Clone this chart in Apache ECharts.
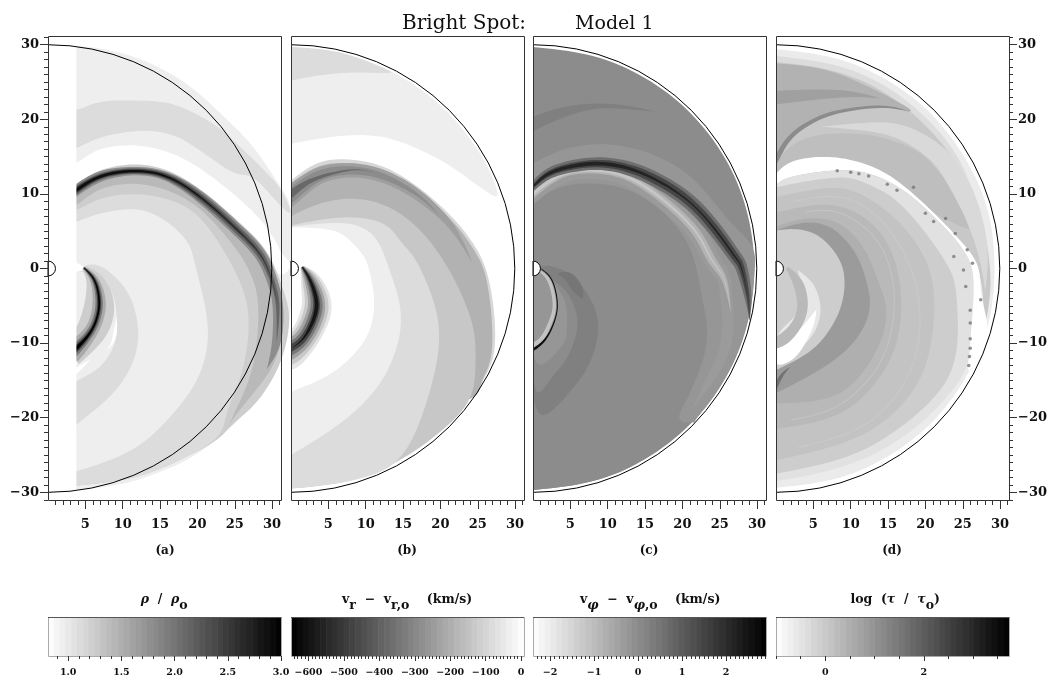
<!DOCTYPE html>
<html><head><meta charset="utf-8">
<script src="https://cdn.jsdelivr.net/npm/echarts@6/dist/echarts.min.js"></script>
<style>html,body{margin:0;padding:0;background:#fff}#c{width:1051px;height:680px}</style>
</head><body><div id="c"></div>
<script>
// Contour bands, in data units: [kind, field value, outline]
// kind p = curved closed outline, q = straight outline, r = ribbon of [x, y, half-width]
const rhoShapes = [
['p',0.956,[[0,30],[3.8,29.8],[7,29.5],[12.4,28.1],[18.6,24.8],[24,19.9],[27.5,16.3],[31.1,10.9],[32.6,7.5],[32.6,-4],[32,-8.7],[31.3,-11.4],[29.3,-15.4],[26.7,-19],[23.1,-22.5],[18.6,-25.7],[13.3,-27.9],[8.3,-29.2],[0,-30]]],
['p',1.11,[[0,21],[3.8,21.2],[7,22.4],[12.6,22.5],[17,22],[22,19.5],[25,17],[28.4,13.7],[31,10.9],[32.6,7.5],[31.2,8.3],[27.5,12.3],[24.9,12.7],[20.4,15.8],[16.8,17.9],[12.4,18.5],[7,17.6],[3.8,16.1],[0,15]]],
['p',0.81,[[0,12.8],[3.8,14.1],[7,16.1],[12.4,16.5],[17.7,15],[22.6,11.8],[27.5,7.6],[30.2,4.2],[31.25,2],[32.6,0.5],[31,-1],[28.4,2],[24.9,5.6],[20.4,9.6],[15.9,12.4],[11.5,13.1],[7,12.4],[3.8,10.5],[0,8]]],
['p',1.24,[[0,8.5],[3.8,11.2],[7,13.2],[11.5,14],[16,13.2],[20.6,10.5],[25.5,6.3],[29.2,2.5],[31.2,-2],[32.3,-6],[31.9,-10],[30.5,-14],[27.9,-18],[25,-20.6],[23,-22.5],[18.6,-25.2],[13.3,-27.5],[8.3,-28.6],[0,-29.5]]],
['p',1.41,[[0,8],[3.8,10.9],[7,12.9],[11.5,13.7],[16,12.9],[20.6,10.2],[25.2,6],[28.8,2.3],[30.6,-2],[31.5,-6],[31.2,-10],[29.8,-13.6],[27.5,-16.7],[24.9,-19.9],[23,-22.5],[20,-21],[10,-20],[0,-20]]],
['p',1.24,[[0,6.5],[3.8,8.5],[7,10.7],[11.5,11.4],[16,10.5],[20.4,8],[24.5,3.5],[26.8,0],[28.2,-4.7],[27.5,-13.2],[24.9,-19.4],[23.3,-22.5],[18.6,-25.2],[13.3,-27.5],[8.3,-28.6],[0,-29.5]]],
['p',1.11,[[0,7],[3.8,7.8],[7,9.4],[11.5,10],[16,9.3],[20.4,6.9],[24.9,0],[26.9,-6],[26.2,-13.2],[24,-19],[22.9,-22.5],[18.6,-25.2],[13.3,-27.5],[8.3,-28.6],[0,-29.5]]],
['p',0.956,[[0,5],[3.8,6.25],[7,7.4],[11.5,8],[15,6.9],[18.6,3.8],[19.8,0],[21.5,-7.8],[20.4,-14.1],[16.8,-19.4],[11.5,-24.3],[3.8,-27.2],[0,-28]]],
['p',1.11,[[4.8,0.3],[7,0.45],[10.6,-2.9],[12.1,-7.8],[11.5,-12.3],[8.8,-16.7],[3.8,-20.8],[0,-22],[0,0]]],
['p',0.956,[[5.5,-0.5],[8.5,-3],[9.2,-6.5],[9,-10],[7,-13.2],[3.8,-15],[0,-16],[0,0]]],
['r',0.81,[[9.2,-6.5,0],[9,-8.5,0.25],[8.6,-10,0.15],[7.8,-11,0]]],
['r',0.81,[[3.2,-14.2,0.35],[3.8,-13.7,0.35],[5.8,-12.1,0]]],
['r',0.81,[[3.5,0.2,0.7],[4.7,0,0.3]]],
['r',1.80,[[2.5,9.3,0.7],[3.8,10.5,0.7],[7,12.4,0.7],[11.5,13.1,0.55],[15.9,12.4,0.6],[20.4,9.6,0.75],[24.9,5.6,0.8],[28.4,2,0.8],[30,-1.6,0.7],[30.8,-5,0.7],[30.6,-10,0.6],[29.3,-13.5,0]]],
['r',2.14,[[2.5,9.3,0.5],[3.8,10.5,0.5],[7,12.4,0.42],[11.5,13.1,0.38],[15.9,12.4,0.42],[20.4,9.6,0.5],[24.9,5.6,0.5],[28.4,2,0.45],[30,-1.6,0.3],[30.8,-5,0.25],[30.6,-10,0]]],
['r',2.48,[[2.5,9.3,0.33],[3.8,10.5,0.33],[7,12.4,0.28],[11.5,13.1,0.26],[15.9,12.4,0.26],[20.4,9.6,0.25],[24.9,5.6,0.2],[28.4,2,0.12],[30,-1.6,0.05],[30.8,-5,0]]],
['r',2.87,[[2.5,9.3,0.2],[3.8,10.5,0.2],[7,12.4,0.17],[11.5,13.1,0.15],[15.9,12.4,0.11],[20.4,9.6,0.06],[24.9,5.6,0.02],[28.4,2,0]]],
['r',1.24,[[4.8,0.1,0.3],[6.3,-1.6,1.2],[6.9,-4.7,2],[6.3,-7.4,2.1],[5.2,-9.2,1.9],[3.8,-10.7,1.8],[3,-11.4,1.8]]],
['r',1.54,[[4.8,0.1,0.2],[6.3,-1.6,0.6],[6.9,-4.7,0.9],[6.3,-7.4,0.9],[5.2,-9.2,1],[3.8,-10.7,1.3],[3,-11.4,1.4]]],
['r',1.97,[[4.8,0.1,0.12],[6.3,-1.6,0.35],[6.9,-4.7,0.5],[6.3,-7.4,0.5],[5.2,-9.2,0.55],[3.8,-10.7,0.75],[3,-11.4,0.85]]],
['r',2.48,[[4.8,0.1,0.08],[6.3,-1.6,0.2],[6.9,-4.7,0.26],[6.3,-7.4,0.25],[5.2,-9.2,0.3],[3.8,-10.7,0.42],[3,-11.4,0.46]]],
['r',3.0,[[4.8,0.1,0.03],[6.3,-1.6,0.08],[6.9,-4.7,0.11],[6.3,-7.4,0.11],[5.2,-9.2,0.15],[3.8,-10.7,0.22],[3,-11.4,0.25]]],
['q',0.81,[[-0.6,-31.03],[3.8,-31.03],[3.8,31.17],[-0.6,31.17]]]
];
const velShapes = [
['q',8,[[-1,-32],[33,-32],[33,32],[-1,32]]],
['p',-36,[[0,29.7],[8,28.6],[15,25.6],[21,21],[25.7,14.9],[27.8,9.8],[26,10.4],[21.6,13.6],[17.1,16],[12.6,17.6],[8.2,17.9],[3.7,17.4],[0,16.7]]],
['p',-82,[[0,29.7],[4,29.4],[8,28.6],[13,26.6],[13,26.2],[8.2,26.3],[3.7,25.9],[0,25.2]]],
['p',-95,[[0,11.8],[3.7,14.3],[8.2,14.6],[12.6,13.6],[17.1,10.9],[21.6,6.9],[24.7,2.9],[26.4,-1],[27.3,-7],[27.1,-12],[25.5,-15.3],[24,-17.6],[14,-20],[0,-20]]],
['p',-190,[[0,11.3],[3.7,13.8],[8.2,14.1],[12.6,13.1],[17.1,10.4],[21.6,6.4],[24.5,2.5],[26.1,-1],[26.9,-7],[26.8,-12],[25.4,-15.3],[24,-17.6],[14,-20],[0,-20]]],
['r',-240,[[-1,9,1.3],[0,9.8,1.3],[3.7,12.5,1.1],[8.2,13.2,0.95],[12.6,12.3,0.85],[17.1,9.8,0.7],[21.6,5.6,0.4],[24.3,0.7,0]]],
['r',-288,[[-1,9,0.9],[0,9.8,0.9],[3.7,12.5,0.7],[8.2,13.2,0.55],[12.6,12.3,0.4],[17.1,9.8,0.2],[20,7,0]]],
['r',-380,[[-1,9,0.5],[0,10,0.5],[3,12,0.25],[8.2,13.3,0.08],[11,12.9,0]]],
['p',-135,[[0,7],[3.7,8.7],[8.2,9.4],[12.6,8.5],[17.1,5.4],[21.1,0],[24.2,-6.9],[24.7,-12.3],[24,-17.6],[20,-21.9],[14.6,-25.7],[8,-28.5],[0,-29.5]]],
['p',-82,[[0,5.8],[3.7,6.5],[8.2,6.9],[12.6,6],[14.9,3.3],[17.1,0.5],[20,-7.8],[18.4,-17.2],[14.6,-25.7],[8,-28.5],[0,-29.5]]],
['p',-36,[[0,5.6],[3.7,6],[8.2,6],[11.3,4.2],[13.1,0],[14.9,-6.9],[12.6,-14.5],[7.3,-20.3],[0,-25]]],
['p',8,[[0,5.5],[3.7,5.4],[6.8,4.7],[9.5,2],[10.4,0],[11.2,-4.7],[10,-9.6],[5.5,-14.1],[0,-16.5]]],
['r',-60,[[1.5,0.2,0.3],[2.6,-1.6,1.4],[3.5,-4.7,2],[2.8,-7.4,2],[1.5,-9.6,2],[0,-10.7,2.6],[-1,-11.2,2.6]]],
['r',-130,[[1.5,0.2,0.25],[2.6,-1.6,1.1],[3.5,-4.7,1.6],[2.8,-7.4,1.6],[1.5,-9.6,1.6],[0,-10.7,2],[-1,-11.2,2]]],
['r',-230,[[1.5,0.2,0.2],[2.6,-1.6,0.8],[3.5,-4.7,1.15],[2.8,-7.4,1.2],[1.5,-9.6,1.2],[0,-10.7,1.4],[-1,-11.2,1.4]]],
['r',-340,[[1.5,0.2,0.15],[2.6,-1.6,0.5],[3.5,-4.7,0.8],[2.8,-7.4,0.8],[1.5,-9.6,0.8],[0,-10.7,0.9],[-1,-11.2,0.9]]],
['r',-469,[[1.5,0.2,0.1],[2.6,-1.6,0.3],[3.5,-4.7,0.45],[2.8,-7.4,0.45],[1.5,-9.6,0.45],[0,-10.7,0.45],[-1,-11.2,0.45]]],
['r',-597,[[1.5,0.2,0.05],[2.6,-1.6,0.15],[3.5,-4.7,0.25],[2.8,-7.4,0.2],[1.5,-9.6,0.1],[0,-10.7,0]]]
];
const phiShapes = [
['q',-2.39,[[-1,-32],[33,-32],[33,32],[-1,32]]],
['p',0,[[0,29.7],[8,28.6],[15,25.6],[21,21],[25.7,14.9],[28.6,8],[29.7,0],[28.6,-8],[25.7,-14.9],[21,-21],[15,-25.6],[8,-28.6],[0,-29.7]]],
['r',0.25,[[-1,19,0.9],[0,19.4,0.9],[3.8,20.9,0.7],[8.3,21.8,0.35],[12.7,21.6,0.25],[16.5,21,0]]],
['p',-0.21,[[0,14.1],[3.8,15.9],[8.3,16.7],[12.7,16.3],[17.2,14.8],[21.7,11.9],[26.1,6.5],[29.5,2.9],[29.6,-1],[29,-6],[27.5,-11],[25,-16],[21.5,-20.5],[20,-20.5],[0,-22]]],
['p',0,[[0,9],[3.8,11],[8.3,11.4],[12.7,10.6],[17.2,7.8],[21,3],[22.5,-3.3],[23.4,-10],[21,-16.7],[19.4,-19.9],[20,-21],[15,-25.6],[8,-28.6],[0,-29.7]]],
['r',-0.31,[[25.2,0.2,0.8],[26.1,-5.6,0.8],[25.7,-10.9,0.7],[23.4,-15.4,0.5],[21.2,-19,0]]],
['r',-0.31,[[-1,9,1.1],[0,10,1.1],[3.8,12.7,1.2],[8.3,13.2,1.2],[12.7,12.3,1.2],[17.2,9.4,1.2],[21.7,5.2,1.2],[23.9,1.1,1.1],[25.7,-1.5,0.9],[26.5,-6,0]]],
['r',-0.8,[[-1,9,0.5],[0,10,0.5],[3.8,12.7,0.45],[8.3,13.2,0.45],[12.7,12.3,0.45],[17.2,9.4,0.5],[21.7,5.2,0.55],[23.9,1.1,0.55],[25.7,-1.5,0.35],[26.5,-6,0]]],
['r',-1.2,[[-1,9,0.22],[0,10,0.22],[3.8,12.7,0.22],[8.3,13.2,0.22],[12.7,12.3,0.2],[17.2,9.4,0.18],[21.7,5.2,0.14],[23.9,1.1,0.1],[25.7,-1.5,0.05],[26.5,-6,0]]],
['r',0.62,[[-1,10,0.5],[0,11,0.5],[2,12.7,0.7],[5.1,13.7,0.8],[9.2,14.1,0.85],[13.6,13.2,0.95],[18.1,11,1],[21.7,8.3,1],[24.8,4.7,0.95],[27,1.6,0.9],[27.9,0.2,0.8],[28.8,-3.8,0.5],[29,-7,0]]],
['r',1.45,[[-1,10,0.22],[0,11,0.22],[2,12.7,0.36],[5.1,13.7,0.45],[9.2,14.1,0.5],[13.6,13.2,0.55],[18.1,11,0.6],[21.7,8.3,0.55],[24.8,4.7,0.55],[27,1.6,0.5],[27.9,0.2,0.4],[28.8,-3.8,0.2],[29,-7,0]]],
['r',2.18,[[-1,10,0.1],[0,11,0.1],[2,12.7,0.2],[5.1,13.7,0.24],[9.2,14.1,0.24],[13.6,13.2,0.2],[18.1,11,0.14],[21.7,8.3,0.08],[24.8,4.7,0.12],[27,1.6,0.1],[27.9,0.2,0.06],[28.8,-3.8,0]]],
['p',0.25,[[2,0.4],[5.1,-0.7],[7.8,-4.2],[8.8,-7.8],[7.8,-12.3],[5.1,-16.3],[0,-19.8],[0,0]]],
['p',0,[[1.5,-1],[4,-2.5],[5.5,-5],[6,-7.8],[4.7,-11.8],[2.5,-14.5],[0,-16.5],[0,0]]],
['p',-0.21,[[2,-1],[3.9,-3.5],[4.5,-5.5],[4.5,-8.5],[3.8,-10.5],[0,-13.1],[0,0]]],
['r',0.46,[[3.2,-0.7,0],[4.7,-1,0.6],[6,-2.8,0.7],[6.7,-4.1,0]]],
['r',-1.14,[[0.4,0,0.08],[2.1,-1.4,0.22],[2.9,-4.7,0.22],[2.4,-7,0.25],[1.3,-9.3,0.28],[0,-10.3,0.3],[-1,-10.8,0.3]]],
['r',2.6,[[0.7,0.2,0.03],[2.5,-1.3,0.07],[3.3,-4.7,0.07],[2.8,-7.3,0.08],[1.6,-9.6,0.13],[0,-10.9,0.18],[-1,-11.3,0.18]]]
];
const tauShapes = [
['q',-1,[[-1,-32],[33,-32],[33,32],[-1,32]]],
['p',-0.63,[[0,29.4],[7.9,28.3],[14.9,25.3],[20.8,20.8],[25.4,14.7],[28.4,7.9],[29.3,0],[28.4,-7.9],[25.4,-14.7],[20.8,-20.8],[14.7,-25.4],[7.9,-28.3],[0,-29.4]]],
['p',0.02,[[0,28],[7.6,27.3],[14.2,24.6],[20,20],[24.5,14.2],[27.4,7.6],[28.7,-0.2],[28.5,-4.7],[27.8,-7.4],[27,0.7],[20,5],[0,10]]],
['r',-0.35,[[0,28.1,0.4],[7.6,27,0.4],[14.2,24.3,0.4],[20,19.8,0.4],[24.5,14.2,0.3],[27,8,0]]],
['p',0.2,[[0,14],[2,16.5],[6,18],[12,18],[16,17],[20,15],[24,10],[26.5,5],[20,8],[10,13],[0,11]]],
['r',-0.3,[[6,19,0],[12.6,19,0.6],[17.1,18.2,1],[21.6,15.4,1.2],[24.2,11.8,1.3],[26.5,6.9,1.1],[27.8,1.6,0.6],[28,-3,0]]],
['p',0.43,[[0,27.5],[5,27],[10,25.5],[17,22],[18,21],[14.9,21.7],[10.4,21.4],[5.9,20.3],[1.9,17.7],[0,14.5]]],
['r',0.76,[[-1,22.8,0.9],[0,22.9,0.9],[5,23.3,0.7],[10,23.4,0.4],[14,22.8,0]]],
['r',1.13,[[-1,13,0.35],[0,14.5,0.35],[1.9,17.7,0.3],[5.9,20.3,0.25],[10.4,21.4,0.2],[14.9,21.7,0.15],[18,21,0]]],
['p',-1,[[0,12.7],[1.9,14.3],[5.9,15],[10.4,14.5],[14.9,12.7],[19.3,9.2],[23.8,4.7],[27,0.7],[27.4,-3.3],[28.3,-7.4],[28.2,-11],[26.6,-14.5],[25.6,-13.1],[26,-9.6],[26.5,-1.3],[25.1,2.5],[21.6,6.5],[17.1,10.5],[12.6,12.7],[8.2,13.2],[1.9,12.3],[0,11.2]]],
['p',-0.44,[[0,11.2],[1.9,12.3],[8.2,13.2],[12.6,12.7],[17.1,10.5],[21.6,6.5],[25.1,2.5],[26.5,-1.3],[26,-9.6],[25.6,-13.1],[23.3,-16.7],[18.9,-21.2],[12.6,-25.2],[5.9,-27.4],[0,-28.5]]],
['p',-0.07,[[0,10.9],[8.2,12.3],[12.6,11.2],[17.1,8.3],[22.9,0.7],[24.2,-4.2],[23.8,-13.6],[18,-20.3],[10,-25.2],[0,-27.5]]],
['p',0.11,[[0,9.6],[8.2,11],[13,9],[17.1,5.6],[20.7,-0.2],[21.1,-7.8],[18.9,-15.8],[11.7,-22.5],[0,-25.7]]],
['p',0.3,[[0,7.5],[3.7,8.3],[8.2,8.5],[13,6],[16,1],[16.8,-6],[15,-13],[9,-19.5],[0,-21.5]]],
['r',-0.05,[[2,10.5,0.08],[8.2,11.8,0.08],[13,9.9,0.08],[17.1,7,0.08],[21.5,0.5,0.08],[22.6,-6,0.08],[21.5,-14,0.08],[15,-21.5,0.08],[5,-26,0.08]]],
['r',0,[[2,8.9,0.08],[8.2,9.8,0.08],[13,7.5,0.08],[16.5,3.3,0.08],[19,-3,0.08],[19,-11,0.08],[15.5,-18,0.08],[10,-22,0.08],[3,-24,0.08]]],
['r',0.1,[[4,7.6,0.07],[8.2,7.7,0.07],[12.5,5,0.07],[15,1,0.07],[15.9,-5,0.07],[14.2,-12.5,0.07],[8.5,-18.5,0.07],[2,-20.3,0.07]]],
['p',0.48,[[0,5.6],[3.7,6.7],[8.2,6.3],[11.7,2.9],[13.5,-1.3],[14.9,-6],[13.1,-11.8],[8.2,-17.2],[0,-18.1]]],
['p',0.85,[[0,5.1],[3.7,6.2],[7.3,5.6],[10.4,2.5],[12,-1.3],[12.6,-5.6],[10.4,-10],[5.9,-13.6],[0,-16.7]]],
['r',1.6,[[-0.5,-17,0.25],[0.6,-14.5,0.25],[1.9,-13.2,0]]],
['p',-0.07,[[0,5.1],[2.8,5.3],[5.9,4.3],[8.6,1.1],[9.2,-2.4],[8.2,-6.5],[5,-10.9],[0,-13.6]]],
['p',-0.55,[[2.9,-0.2],[5,-2],[6,-5.1],[5.5,-7.8],[4,-10],[0,-13.2],[0,-9],[3,-6],[3.5,-3]]],
['p',-1,[[5.4,-5.5],[5,-7.8],[2.8,-11.8],[0,-13],[0,-10.3],[2.6,-8.7],[4.2,-7]]],
['r',0.3,[[1.5,0.1,0.2],[3,-2,0.7],[3.6,-5,0.7],[2.8,-7.5,0.7],[1,-9.5,0.8],[-0.5,-10,0.8]]]
];
const tauDots = [[8.2,13.1],[10,12.9],[11.1,12.7],[12.4,12.4],[14.9,11.3],[16.2,10.5],[18.4,10.9],[20,7.4],[21.1,6.3],[22.7,6.7],[24,4.7],[25.6,2.5],[23.8,1.6],[26.3,0.7],[25.1,-0.2],[25.4,-2.4],[26,-5.6],[26,-7.3],[26,-9.4],[26,-10.7],[25.9,-11.8],[25.8,-13],[27.4,-4.2]];

const xTickLabels = [5,10,15,20,25,30];
const yTickLabels = [30,20,10,0,-10,-20,-30];
const rhoTicks = [1.0,1.5,2.0,2.5,3.0];
const velTicks = [-600,-500,-400,-300,-200,-100,0];
const phiTicks = [-2,-1,0,1,2];
const tauTicks = [0,2];
const rhoSteps = [0.81,0.865,0.92,0.97,1.03,1.08,1.14,1.19,1.25,1.30,1.36,1.41,1.47,1.52,1.58,1.63,1.69,1.74,1.80,1.85,1.905,1.96,2.015,2.07,2.125,2.18,2.235,2.29,2.345,2.40,2.455,2.51,2.565,2.62,2.675,2.73,2.78,2.84,2.89,2.945,3.0];
const velSteps = [-649,-633,-616,-600,-583,-567,-550,-534,-518,-501,-485,-468,-452,-436,-419,-403,-386,-370,-354,-337,-320,-304,-288,-271,-255,-238,-222,-206,-189,-173,-156,-140,-124,-107,-91,-74,-58,-42,-25,-9,8];
const phiSteps = [-2.39,-2.26,-2.125,-1.99,-1.86,-1.73,-1.595,-1.46,-1.33,-1.2,-1.065,-0.93,-0.8,-0.67,-0.535,-0.4,-0.27,-0.14,-0.005,0.13,0.26,0.39,0.525,0.66,0.79,0.92,1.055,1.19,1.32,1.45,1.585,1.72,1.85,1.98,2.115,2.25,2.38,2.51,2.645,2.78,2.91];
const tauSteps = [-1,-0.88,-0.76,-0.65,-0.53,-0.41,-0.29,-0.17,-0.05,0.06,0.18,0.3,0.42,0.54,0.66,0.77,0.89,1.01,1.13,1.25,1.37,1.48,1.6,1.72,1.84,1.96,2.08,2.19,2.31,2.43,2.55,2.67,2.79,2.9,3.02,3.14,3.26,3.38,3.5,3.61,3.73];
const diskRadius = 30, starRadius = 1;

const FONT = '"DejaVu Serif"', INK = '#333';
const XMAX = 31.19, YMIN = -31.03, YMAX = 31.17;
const panelLeft = [48, 291, 533, 776], panelW = 233, panelTop = 36, panelH = 464;

const scales = [
  {min:0.81,max:3.0,rev:false,shapes:rhoShapes,steps:rhoSteps,ticks:rhoTicks,minor:0.1,fmt:v=>v.toFixed(1)},
  {min:-649,max:8,rev:true,shapes:velShapes,steps:velSteps,ticks:velTicks,minor:10,fmt:v=>String(v).replace('-','\u2212')},
  {min:-2.39,max:2.91,rev:false,shapes:phiShapes,steps:phiSteps,ticks:phiTicks,minor:0.1,fmt:v=>String(v).replace('-','\u2212')},
  {min:-1,max:3.73,rev:false,shapes:tauShapes,steps:tauSteps,ticks:tauTicks,minor:0.5,fmt:v=>String(v)}
];
function gray(s, v){
  let f = (v - s.min) / (s.max - s.min);
  f = Math.max(0, Math.min(1, f));
  const g = Math.round(255 * (s.rev ? f : 1 - f));
  return 'rgb(' + g + ',' + g + ',' + g + ')';
}
// draws a curve through the read points (only the drawing path, no new data)
function spline(p, n){
  const out = [];
  for (let i = 0; i < p.length - 1; i++) {
    const a = p[Math.max(0, i - 1)], b = p[i], c = p[i + 1], d = p[Math.min(p.length - 1, i + 2)];
    for (let k = 0; k < n; k++) {
      const t = k / n, t2 = t * t, t3 = t2 * t;
      out.push(b.map((_, j) => 0.5 * (2 * b[j] + (c[j] - a[j]) * t + (2 * a[j] - 5 * b[j] + 4 * c[j] - d[j]) * t2 + (3 * b[j] - a[j] - 3 * c[j] + d[j]) * t3)));
    }
  }
  out.push(p[p.length - 1].slice());
  return soften(out, 3);
}
function soften(p, w){
  return p.map((q, i) => {
    const h = Math.min(w, i, p.length - 1 - i);
    return q.map((_, j) => { let s = 0; for (let k = -h; k <= h; k++) s += p[i + k][j]; return s / (2 * h + 1); });
  });
}
function ribbonOutline(rIn){
  const r = spline(rIn, 8);
  const L = [], R = [];
  r.forEach((p, i) => {
    const a = r[Math.max(0, i - 1)], b = r[Math.min(r.length - 1, i + 1)];
    const dx = b[0] - a[0], dy = b[1] - a[1], n = Math.hypot(dx, dy) || 1, w = Math.max(0, p[2]);
    L.push([p[0] - dy / n * w, p[1] + dx / n * w]);
    R.push([p[0] + dy / n * w, p[1] - dx / n * w]);
  });
  return L.concat(R.reverse());
}
function range(a, b, st){ const o = []; for (let i = 0; a + i * st <= b + 1e-9; i++) o.push(+(a + i * st).toFixed(4)); return o; }

const grid = [], xAxis = [], yAxis = [], series = [];
const lineS = {color: INK, width: 1};
const tLabel = {fontFamily: FONT, fontSize: 13, fontWeight: 'bold', color: '#111'};
const fmtInt = v => String(v).replace('-', '\u2212');
const noLine = {show: false, onZero: false};

scales.forEach((s, i) => {
  grid.push({left: panelLeft[i], top: panelTop, width: panelW, height: panelH, containLabel: false});
  const gi = grid.length - 1;
  const xBase = {type: 'value', gridIndex: gi, min: 0, max: XMAX, position: 'bottom', z: 10, axisLine: noLine, splitLine: {show: false}};
  xAxis.push(Object.assign({}, xBase, {
    axisTick: {show: true, customValues: xTickLabels, length: 9, lineStyle: lineS},
    axisLabel: {show: true, customValues: xTickLabels, margin: 18, formatter: fmtInt, ...tLabel}}));
  const xAx = xAxis.length - 1;
  xAxis.push(Object.assign({}, xBase, {
    axisTick: {show: true, customValues: range(1, 31, 1), length: 5, lineStyle: lineS},
    axisLabel: {show: false}}));
  const pos = i === 3 ? 'right' : 'left', ticksOn = i === 0 || i === 3;
  const yBase = {type: 'value', gridIndex: gi, min: YMIN, max: YMAX, position: pos, z: 10, show: ticksOn, axisLine: noLine, splitLine: {show: false}};
  yAxis.push(Object.assign({}, yBase, {
    axisTick: {show: true, customValues: yTickLabels, length: 8, lineStyle: lineS},
    axisLabel: {show: true, customValues: yTickLabels, margin: 9, formatter: fmtInt, ...tLabel}}));
  const yAx = yAxis.length - 1;
  yAxis.push(Object.assign({}, yBase, {
    axisTick: {show: true, customValues: range(-31, 31, 1), length: 4, lineStyle: lineS},
    axisLabel: {show: false}}));

  series.push({
    type: 'custom', coordinateSystem: 'cartesian2d', xAxisIndex: xAx, yAxisIndex: yAx,
    clip: i !== 0, silent: true, animation: false,
    data: s.shapes.map((_, k) => [k, 0]),
    renderItem(params, api){
      const sh = s.shapes[params.dataIndex];
      let pts;
      if (sh[0] === 'r') pts = ribbonOutline(sh[2]);
      else if (sh[0] === 'q') pts = sh[2];
      else {
        pts = spline(sh[2], 8);
        const a = pts[0], b = pts[pts.length - 1];
        if (a[0] <= 0) pts = [[-0.5, a[1]]].concat(pts);
        if (b[0] <= 0) pts = pts.concat([[-0.5, b[1]]]);
      }
      return {type: 'polygon', silent: true,
        shape: {points: pts.map(p => api.coord([p[0], p[1]]))},
        style: {fill: gray(s, sh[1]), stroke: null}};
    }
  });
  if (i === 3) {
    series.push({type: 'scatter', xAxisIndex: xAx, yAxisIndex: yAx, data: tauDots, symbolSize: 3.5,
      silent: true, animation: false, itemStyle: {color: '#777'}});
  }
  series.push({
    type: 'custom', coordinateSystem: 'cartesian2d', xAxisIndex: xAx, yAxisIndex: yAx,
    clip: false, silent: true, animation: false, data: [[0, 0]],
    renderItem(params, api){
      const c = api.coord([0, 0]);
      const rd = api.size([diskRadius, diskRadius])[1], rs = api.size([starRadius, starRadius])[1];
      const tl = api.coord([0, YMAX]), br = api.coord([XMAX, YMIN]);
      return {type: 'group', children: [
        {type: 'arc', shape: {cx: c[0], cy: c[1], r: rd, startAngle: -Math.PI / 2, endAngle: Math.PI / 2, clockwise: true},
          style: {stroke: '#000', lineWidth: 1, fill: null}},
        {type: 'sector', shape: {cx: c[0], cy: c[1], r0: 0, r: rs, startAngle: -Math.PI / 2, endAngle: Math.PI / 2},
          style: {fill: '#fff', stroke: '#000', lineWidth: 1}},
        {type: 'rect', shape: {x: tl[0] + 0.5, y: tl[1] + 0.5, width: br[0] - tl[0], height: br[1] - tl[1]},
          style: {fill: null, stroke: INK, lineWidth: 1}}
      ]};
    }
  });
});

// colour bars
scales.forEach((s, i) => {
  grid.push({left: panelLeft[i], top: 617, width: panelW, height: 39});
  const gi = grid.length - 1;
  const xBase = {type: 'value', gridIndex: gi, min: s.min, max: s.max, position: 'bottom', z: 10, axisLine: noLine, splitLine: {show: false}};
  xAxis.push(Object.assign({}, xBase, {
    axisTick: {show: true, customValues: s.ticks, length: 5, lineStyle: lineS},
    axisLabel: {show: true, customValues: s.ticks, margin: 12, formatter: s.fmt, fontFamily: FONT, fontSize: 9.5, fontWeight: 'bold', color: '#111'}}));
  const xAx = xAxis.length - 1;
  const first = Math.ceil(s.min / s.minor - 1e-6) * s.minor;
  xAxis.push(Object.assign({}, xBase, {
    axisTick: {show: true, customValues: range(first, s.max, s.minor), length: 3, lineStyle: lineS},
    axisLabel: {show: false}}));
  yAxis.push({type: 'value', gridIndex: gi, min: 0, max: 1, show: false, axisLine: noLine});
  const yAx = yAxis.length - 1;
  series.push({
    type: 'custom', coordinateSystem: 'cartesian2d', xAxisIndex: xAx, yAxisIndex: yAx,
    silent: true, animation: false,
    data: s.steps.slice(0, -1).map((v, k) => [v, s.steps[k + 1]]),
    renderItem(params, api){
      const a = api.value(0), b = api.value(1);
      const p0 = api.coord([a, 1]), p1 = api.coord([b, 0]);
      return {type: 'rect', shape: {x: p0[0], y: p0[1], width: p1[0] - p0[0] + 0.6, height: p1[1] - p0[1]},
        style: {fill: gray(s, (a + b) / 2), stroke: null}};
    }
  });
  series.push({
    type: 'custom', coordinateSystem: 'cartesian2d', xAxisIndex: xAx, yAxisIndex: yAx,
    silent: true, animation: false, data: [[0, 0]],
    renderItem(params, api){
      const p0 = api.coord([s.min, 1]), p1 = api.coord([s.max, 0]);
      return {type: 'group', children: [
        {type: 'rect', shape: {x: p0[0] + 0.5, y: p0[1] + 0.5, width: p1[0] - p0[0], height: p1[1] - p0[1]},
          style: {fill: null, stroke: '#aaa', lineWidth: 1}},
        {type: 'line', shape: {x1: p0[0], y1: p0[1] + 0.5, x2: p1[0], y2: p0[1] + 0.5},
          style: {stroke: '#555', lineWidth: 1}}
      ]};
    }
  });
});

const rich = {
  a: {fontFamily: FONT, fontSize: 12.5, fontWeight: 'bold', color: '#111', lineHeight: 14, verticalAlign: 'top'},
  i: {fontFamily: FONT, fontSize: 12.5, fontWeight: 'bold', fontStyle: 'italic', color: '#111', lineHeight: 14, verticalAlign: 'top'},
  s: {fontFamily: FONT, fontSize: 12.5, fontWeight: 'bold', color: '#111', lineHeight: 14, verticalAlign: 'bottom'},
  si: {fontFamily: FONT, fontSize: 12.5, fontWeight: 'bold', fontStyle: 'italic', color: '#111', lineHeight: 14, verticalAlign: 'bottom'},
  b: {fontSize: 1, lineHeight: 19, color: 'transparent'}
};
function barTitle(text, x){ return {text, left: x, top: 593, textAlign: 'center', padding: 0, textStyle: {rich, fontSize: 12.5}}; }
const head = {fontFamily: FONT, fontSize: 20, fontWeight: 'normal', color: '#111'};
function small(text, x){ return {text, left: x, top: 545, textAlign: 'center', padding: 0, textStyle: {fontFamily: FONT, fontSize: 12, fontWeight: 'bold', color: '#111'}}; }
const title = [
  {text: 'Bright Spot:', left: 402, top: 14, padding: 0, textStyle: head},
  {text: 'Model 1', left: 575, top: 15, padding: 0, textStyle: Object.assign({}, head, {fontSize: 19})},
  small('(a)', 165), small('(b)', 407), small('(c)', 649), small('(d)', 892),
  barTitle('{b| }{i|\u03c1}{a|  /  }{i|\u03c1}{s|o}', 164),
  barTitle('{b| }{a|v}{s|r}{a|  \u2212  v}{s|r,o}{a|    (km/s)}', 407),
  barTitle('{b| }{a|v}{si|\u03c6}{a|  \u2212  v}{si|\u03c6}{s|,o}{a|    (km/s)}', 650),
  barTitle('{b| }{a|log  (}{i|\u03c4}{a|  /  }{i|\u03c4}{s|o}{a|)}', 895)
];

const chart = echarts.init(document.getElementById('c'), null, {renderer: 'canvas'});
chart.setOption({animation: false, backgroundColor: '#fff', title, grid, xAxis, yAxis, series});
</script></body></html>
